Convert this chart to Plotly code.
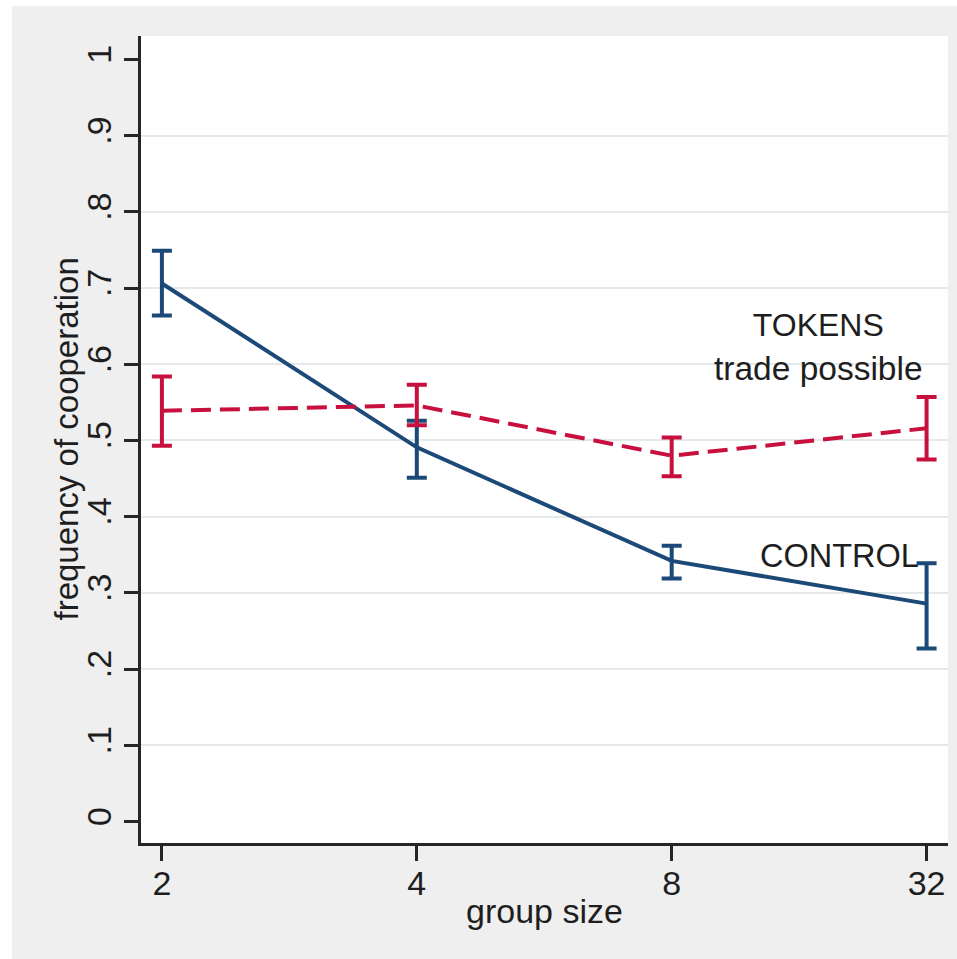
import plotly.graph_objects as go

# ---- data ----
group_sizes = ["2", "4", "8", "32"]
positions = [0, 1, 2, 3]

control_mean = [0.706, 0.491, 0.342, 0.286]
control_lo = [0.664, 0.451, 0.319, 0.227]
control_hi = [0.749, 0.526, 0.362, 0.339]

tokens_mean = [0.539, 0.546, 0.480, 0.516]
tokens_lo = [0.493, 0.520, 0.453, 0.475]
tokens_hi = [0.584, 0.573, 0.504, 0.557]

y_ticks = [0, 0.1, 0.2, 0.3, 0.4, 0.5, 0.6, 0.7, 0.8, 0.9, 1.0]
y_ticklabels = ["0", ".1", ".2", ".3", ".4", ".5", ".6", ".7", ".8", ".9", "1"]
grid_vals = y_ticks[1:-1]

BLUE = "#1b4a78"
RED = "#c8103e"
FONT = "Arial, Liberation Sans, Arimo, sans-serif"
TXT = "#1e1e1e"
AX = "#262626"

# plot-area geometry in pixels
L, R, T, B = 141, 948, 36, 843
W, H = R - L, B - T


def err(mean, lo, hi, color):
    return dict(
        type="data",
        symmetric=False,
        array=[h - m for m, h in zip(mean, hi)],
        arrayminus=[m - l for m, l in zip(mean, lo)],
        color=color,
        thickness=4,
        width=10,
    )


fig = go.Figure()

fig.add_trace(go.Scatter(
    x=positions, y=control_mean, mode="lines",
    line=dict(color=BLUE, width=4),
    error_y=err(control_mean, control_lo, control_hi, BLUE),
    name="CONTROL", showlegend=False,
))

fig.add_trace(go.Scatter(
    x=positions, y=tokens_mean, mode="lines",
    line=dict(color=RED, width=4, dash="20px,9px"),
    error_y=err(tokens_mean, tokens_lo, tokens_hi, RED),
    name="TOKENS", showlegend=False,
))

# series labels
fig.add_annotation(x=2.575, y=0.622, xref="x", yref="y",
                   text="<span style='font-size:32px'>TOKENS</span><br>trade possible",
                   showarrow=False, xanchor="center", yanchor="middle", align="center",
                   font=dict(family=FONT, size=33.5, color=TXT))
fig.add_annotation(x=2.657, y=0.348, xref="x", yref="y", text="CONTROL",
                   showarrow=False, xanchor="center", yanchor="middle",
                   font=dict(family=FONT, size=32.5, color=TXT))

# axis titles
fig.add_annotation(x=(66 - L) / W, y=0.5, xref="paper", yref="paper",
                   text="frequency of cooperation", textangle=-90,
                   showarrow=False, xanchor="center", yanchor="middle",
                   font=dict(family=FONT, size=33, color=TXT))
fig.add_annotation(x=0.5, y=-(911 - B) / H, xref="paper", yref="paper",
                   text="group size",
                   showarrow=False, xanchor="center", yanchor="middle",
                   font=dict(family=FONT, size=34, color=TXT))

# outer grey frame with a thin white border at left/top
fig.add_shape(type="rect", xref="paper", yref="paper",
              x0=(12 - L) / W, x1=(957 - L) / W,
              y0=-(959 - B) / H, y1=(B - 6) / H,
              fillcolor="#efefef", line=dict(width=0), layer="below")
fig.add_shape(type="rect", xref="paper", yref="paper",
              x0=0, x1=1, y0=0, y1=1,
              fillcolor="white", line=dict(width=0), layer="below")

fig.update_layout(
    width=957, height=959,
    margin=dict(l=L, r=957 - R, t=T, b=959 - B),
    paper_bgcolor="white",
    plot_bgcolor="rgba(0,0,0,0)",
    font=dict(family=FONT, size=30, color=TXT),
    xaxis=dict(
        range=[-0.082, 3.084],
        tickvals=positions, ticktext=group_sizes,
        ticks="outside", ticklen=15, tickwidth=2.5, tickcolor=AX,
        ticklabelstandoff=-7,
        showline=True, linecolor=AX, linewidth=2.5,
        showgrid=False, zeroline=False,
        tickfont=dict(family=FONT, size=34, color=TXT),
    ),
    yaxis=dict(
        range=[-0.028, 1.0306],
        tickvals=y_ticks, ticktext=y_ticklabels, tickangle=-90,
        ticks="outside", ticklen=14, tickwidth=2.5, tickcolor=AX,
        showline=True, linecolor=AX, linewidth=2.5,
        showgrid=False, zeroline=False,
        tickfont=dict(family=FONT, size=34, color=TXT),
    ),
    yaxis2=dict(
        range=[-0.028, 1.0306], overlaying="y", side="left",
        tickvals=grid_vals, showticklabels=False, ticks="",
        showgrid=True, gridcolor="#e6e9ea", gridwidth=1.5,
        showline=False, zeroline=False,
    ),
)

# invisible helper trace so the grid axis is rendered
fig.add_trace(go.Scatter(x=[positions[0]], y=[grid_vals[0]], yaxis="y2",
                         mode="markers", marker=dict(opacity=0),
                         showlegend=False, hoverinfo="skip"))

fig.write_html("out.html", config={"displayModeBar": False},
               post_script="document.body.style.margin='0';")
